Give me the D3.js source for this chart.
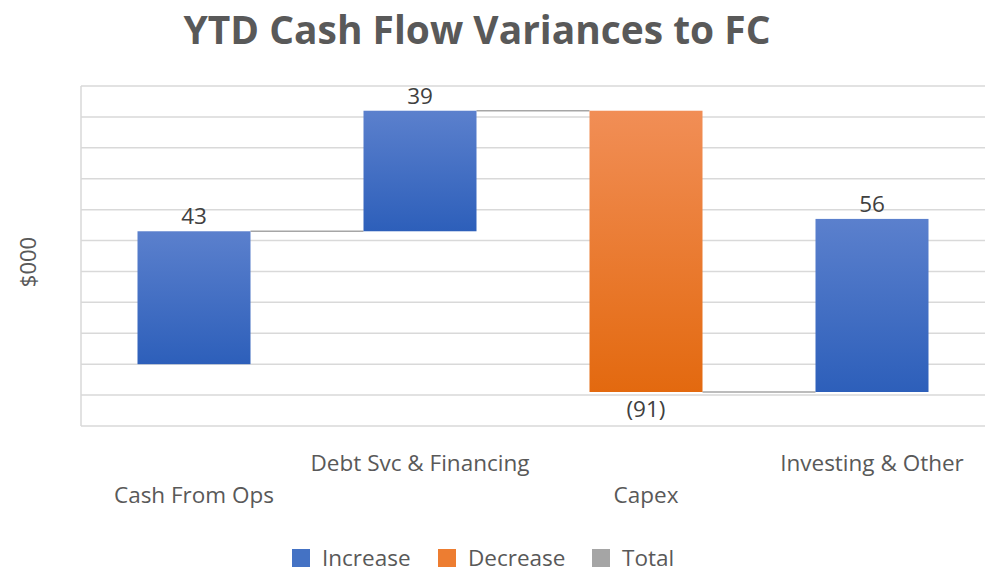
<!DOCTYPE html>
<html>
<head>
<meta charset="utf-8">
<script src="https://cdn.jsdelivr.net/npm/d3@7/dist/d3.min.js"></script>
<style>
  body { margin: 0; background: #fff; }
  text { font-family: "Open Sans", sans-serif; }
</style>
</head>
<body>
<div id="chart"></div>
<script>
var categories = ["Cash From Ops", "Debt Svc & Financing", "Capex", "Investing & Other"];
var values = [43, 39, -91, 56];
var labels = ["43", "39", "(91)", "56"];
var yTicks = [-20, -10, 0, 10, 20, 30, 40, 50, 60, 70, 80, 90];
var legendItems = ["Increase", "Decrease", "Total"];

var W = 990, H = 573;

var svg = d3.select("#chart").append("svg")
    .attr("width", W)
    .attr("height", H);

// running totals for the waterfall
var start = 0;
var steps = values.map(function(v, i) {
    var s = { cat: categories[i], v: v, from: start, to: start + v, label: labels[i] };
    start = start + v;
    return s;
});

var x = d3.scaleBand()
    .domain(categories)
    .range([81, 985])
    .paddingInner(0.5)
    .paddingOuter(0.25);

var y = d3.scaleLinear()
    .domain([-20, 90])
    .range([426, 86]);

// gradients
var defs = svg.append("defs");
function grad(id, top, bottom) {
    var g = defs.append("linearGradient").attr("id", id)
        .attr("x1", 0).attr("y1", 0).attr("x2", 0).attr("y2", 1);
    g.append("stop").attr("offset", "0%").attr("stop-color", top);
    g.append("stop").attr("offset", "100%").attr("stop-color", bottom);
}
grad("gInc", "#5b80cd", "#2d5fba");
grad("gDec", "#f18e56", "#e3690f");

// gridlines
svg.append("g").selectAll("line")
    .data(yTicks)
    .enter().append("line")
    .attr("x1", 81).attr("x2", 985)
    .attr("y1", function(d) { return y(d); })
    .attr("y2", function(d) { return y(d); })
    .attr("stroke", "#d9d9d9")
    .attr("stroke-width", 1.5);

svg.append("line")
    .attr("x1", 81).attr("x2", 81)
    .attr("y1", y(90)).attr("y2", y(-20))
    .attr("stroke", "#d9d9d9")
    .attr("stroke-width", 1.5);

// connectors
svg.append("g").selectAll("line")
    .data(steps.slice(0, -1))
    .enter().append("line")
    .attr("x1", function(d) { return x(d.cat) + x.bandwidth(); })
    .attr("x2", function(d, i) { return x(categories[i + 1]); })
    .attr("y1", function(d) { return y(d.to); })
    .attr("y2", function(d) { return y(d.to); })
    .attr("stroke", "#a6a6a6")
    .attr("stroke-width", 1.5);

// bars
svg.append("g").selectAll("rect")
    .data(steps)
    .enter().append("rect")
    .attr("x", function(d) { return x(d.cat); })
    .attr("width", x.bandwidth())
    .attr("y", function(d) { return y(Math.max(d.from, d.to)); })
    .attr("height", function(d) { return Math.abs(y(d.from) - y(d.to)); })
    .attr("fill", function(d) { return d.v >= 0 ? "url(#gInc)" : "url(#gDec)"; });

// value labels
svg.append("g").selectAll("text")
    .data(steps)
    .enter().append("text")
    .attr("x", function(d) { return x(d.cat) + x.bandwidth() / 2; })
    .attr("y", function(d) {
        return d.v >= 0 ? y(d.to) - 7 : y(d.to) + 25;
    })
    .attr("text-anchor", "middle")
    .attr("font-size", "22.5px")
    .attr("fill", "#404040")
    .text(function(d) { return d.label; });

// category labels, staggered
svg.append("g").selectAll("text")
    .data(categories)
    .enter().append("text")
    .attr("x", function(d) { return x(d) + x.bandwidth() / 2; })
    .attr("y", function(d, i) { return i % 2 === 0 ? 503 : 471; })
    .attr("text-anchor", "middle")
    .attr("font-size", "22.5px")
    .attr("fill", "#595959")
    .text(function(d) { return d; });

// title
svg.append("text")
    .attr("x", 477)
    .attr("y", 44)
    .attr("text-anchor", "middle")
    .attr("font-size", "40px")
    .attr("font-weight", "bold")
    .attr("fill", "#595959")
    .attr("textLength", 587)
    .attr("lengthAdjust", "spacingAndGlyphs")
    .text("YTD Cash Flow Variances to FC");

// y axis title
svg.append("text")
    .attr("transform", "translate(36,262) rotate(-90)")
    .attr("text-anchor", "middle")
    .attr("font-size", "22px")
    .attr("fill", "#595959")
    .text("$000");

// legend
var legendColors = ["#4472c4", "#ed7d31", "#a5a5a5"];
var legendX = [292, 438, 592];
var lg = svg.append("g").selectAll("g")
    .data(legendItems)
    .enter().append("g")
    .attr("transform", function(d, i) { return "translate(" + legendX[i] + ",549)"; });
lg.append("rect")
    .attr("width", 18).attr("height", 18)
    .attr("fill", function(d, i) { return legendColors[i]; });
lg.append("text")
    .attr("x", 30)
    .attr("y", 17)
    .attr("font-size", "22.5px")
    .attr("fill", "#595959")
    .text(function(d) { return d; });
</script>
</body>
</html>
